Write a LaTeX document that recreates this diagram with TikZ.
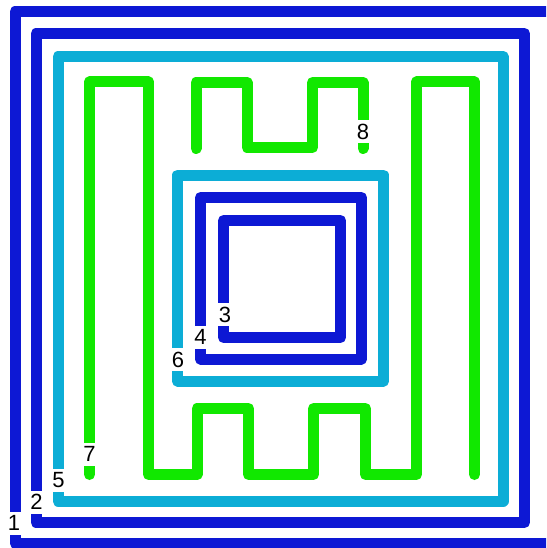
\documentclass[tikz,border=0pt]{standalone}
\usepackage{fontspec}
\setmainfont{Liberation Sans}
\definecolor{coildark}{RGB}{13,24,212}
\definecolor{coillight}{RGB}{12,173,214}
\definecolor{coilgreen}{RGB}{17,232,0}
\tikzset{
  wind/.style={line width=11pt, line join=round},
  darkwind/.style={wind, draw=coildark},
  lightwind/.style={wind, draw=coillight},
  greenwind/.style={wind, draw=coilgreen, line cap=round},
  pin/.style={fill=white, inner sep=0pt, minimum width=22pt, minimum height=23pt,
    font=\fontsize{22}{26}\selectfont}
}
\begin{document}
\begin{tikzpicture}[x=1pt,y=-1pt]
\useasboundingbox (0,0) rectangle (546,548);
\clip (0,0) rectangle (546,548);
% dark blue windings
\draw[darkwind] (15,11.5) rectangle (553,543);
\draw[darkwind] (36,33.5) rectangle (524.5,522.5);
% light blue outer
\draw[lightwind] (58,56.5) rectangle (503,501);
% green windings
\draw[greenwind] (89.5,474.5) -- (89.5,82) -- (148.5,82) -- (148.5,474.5)
  -- (197,474.5) -- (197,408.5) -- (248.5,408.5) -- (248.5,474.5)
  -- (313.5,474.5) -- (313.5,408.5) -- (365.5,408.5) -- (365.5,474.5)
  -- (416.5,474.5) -- (416.5,82) -- (474.5,82) -- (474.5,474.5);
\draw[greenwind] (196,148.5) -- (196,82.5) -- (247,82.5) -- (247,147.5)
  -- (312.5,147.5) -- (312.5,82.5) -- (363,82.5) -- (363,148.5);
% inner windings
\draw[lightwind] (177.5,175) rectangle (383.5,381);
\draw[darkwind] (200.5,197.5) rectangle (361.5,359);
\draw[darkwind] (223.5,220.5) rectangle (340.5,337.5);
% pin labels
\node[pin] (p1) at (14,523) {1};
\node[pin] (p2) at (36.5,502) {2};
\node[pin] (p3) at (225,314.5) {3};
\node[pin] (p4) at (200.5,337) {4};
\node[pin] (p5) at (58.5,480) {5};
\node[pin] (p6) at (178,359.5) {6};
\node[pin] (p7) at (89.5,454) {7};
\node[pin] (p8) at (363,132) {8};
\end{tikzpicture}
\end{document}
